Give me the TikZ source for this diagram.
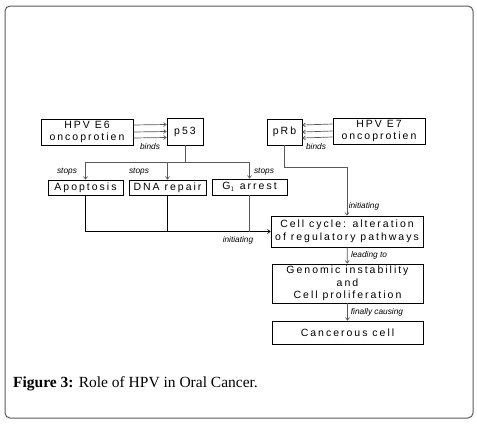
\documentclass[tikz,border=0pt]{standalone}
\usepackage{fontspec}
\setmainfont{Liberation Serif}
\newfontfamily\boxfont[LetterSpace=19]{Liberation Sans}
\newfontfamily\labfont{Liberation Sans}
\usetikzlibrary{arrows.meta}
\begin{document}
\begin{tikzpicture}[x=1pt,y=-1pt,
    box/.style={draw,line width=0.8pt,inner sep=0pt,align=center,font=\boxfont\fontsize{10.5}{12.5}\selectfont},
    lab/.style={font=\labfont\itshape\fontsize{8.3}{9}\selectfont,inner sep=0pt},
    link/.style={line width=0.7pt,-{Straight Barb[length=2.5pt,width=4pt]}}]
\useasboundingbox (0,0) rectangle (477,426);
\draw[gray!70!black,line width=1pt,rounded corners=5pt] (5,6) rectangle (473,418);

\node[box,minimum width=92pt,minimum height=26pt] (e6) at (87,132) {HPV E6\\oncoprotien};
\node[box,minimum width=36pt,minimum height=27pt] (p53) at (185,131.5) {p53};
\node[box,minimum width=35pt,minimum height=26pt] (prb) at (284.5,132) {pRb};
\node[box,minimum width=92pt,minimum height=26pt] (e7) at (379,131) {HPV E7\\oncoprotien};

\node[box,minimum width=75pt,minimum height=15pt] (apop) at (85.5,187.5) {Apoptosis};
\node[box,minimum width=77pt,minimum height=15pt] (dna) at (167.5,187.5) {DNA repair};
\node[box,minimum width=75pt,minimum height=16pt] (g1) at (249.5,187) {G$_1$ arrest};

\node[box,minimum width=152pt,minimum height=31pt] (cyc) at (347,231.5) {Cell cycle: alteration\\of regulatory pathways};
\node[box,minimum width=151pt,minimum height=39pt] (gen) at (347.5,283.5) {Genomic instability\\and\\Cell proliferation};
\node[box,minimum width=151pt,minimum height=23pt] (can) at (347.5,332.5) {Cancerous cell};

% binding
\foreach \dy in {7,0,-6}
  {\draw[link,gray!70!black] ([yshift=\dy pt]e6.east) -- ([yshift=\dy pt]p53.west);
   \draw[link,gray!70!black] ([yshift=\dy pt]e7.west) -- ([yshift=\dy pt]prb.east);}
\node[lab] (b1) at (150,147) {binds};
\node[lab] (b2) at (316,147) {binds};

% p53 stops
\draw[gray!70!black,line width=0.7pt] (p53.south) -- ++(0,17) coordinate (split);
\draw[gray!70!black,line width=0.7pt] (apop.north |- split) -- (g1.north |- split);
\foreach \n in {apop,dna,g1}
  \draw[link,gray!70!black] (\n.north |- split) -- (\n.north);
\node[lab] (s1) at (67,172) {stops};
\node[lab] (s2) at (139,172) {stops};
\node[lab] (s3) at (264,172) {stops};

% into cell cycle
\draw[link] (apop.south) |- (cyc.west);
\draw[line width=0.7pt] (dna.south) -- (dna.south |- cyc.west);
\draw[gray!70!black,line width=0.7pt] (g1.south) -- (g1.south |- cyc.west);
\node[lab] (i1) at (238,240) {initiating};
\draw[link,gray!70!black] (prb.south) -- ++(0,22) -| (cyc.north);
\node[lab] (i2) at (364,206) {initiating};

\draw[link,gray!70!black] (cyc) -- (gen);
\node[lab] (l1) at (369,255) {leading to};
\draw[link,gray!70!black] (gen) -- (can);
\node[lab] (l2) at (377,312) {finally causing};

\node[anchor=west,inner sep=0pt,font=\fontsize{15.5}{18}\selectfont] (cap) at (13,384) {\textbf{Figure 3:} Role of HPV in Oral Cancer.};
\end{tikzpicture}
\end{document}
